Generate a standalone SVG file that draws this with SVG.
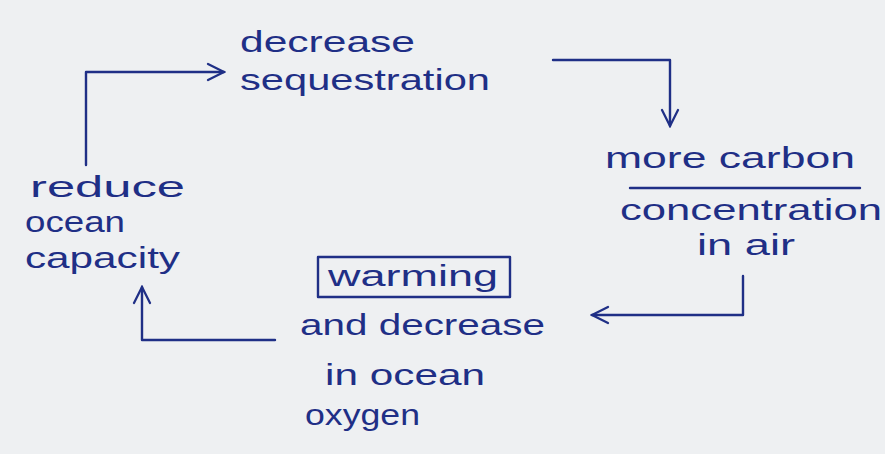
<svg xmlns="http://www.w3.org/2000/svg" width="885" height="454" viewBox="0 0 885 454">
  <defs>
    <style>
      .ink { fill: #1f2f86; font-family: "Liberation Sans", "DejaVu Sans", sans-serif; font-size: 30px; }
      .line { fill: none; stroke: #1f2f86; stroke-width: 2.4; stroke-linecap: round; stroke-linejoin: round; }
    </style>
    <marker id="head" viewBox="0 0 12 12" refX="11" refY="6" markerWidth="8" markerHeight="8" markerUnits="strokeWidth" orient="auto">
      <path d="M1,1 L11,6 L1,11" fill="none" stroke="#1f2f86" stroke-width="1.4" stroke-linecap="round"/>
    </marker>
  </defs>

  <!-- paper -->
  <rect width="885" height="454" fill="#eef0f2"/>

  <g id="connectors">
    <path class="line" d="M86,165 L86,72 L224,72" marker-end="url(#head)"/>
    <path class="line" d="M553,60 L670,60 L670,126" marker-end="url(#head)"/>
    <path class="line" d="M743,276 L743,315 L592,315" marker-end="url(#head)"/>
    <path class="line" d="M275,340 L142,340 L142,287" marker-end="url(#head)"/>
  </g>

  <g id="node-sequestration">
    <text class="ink" x="240" y="52" textLength="175" lengthAdjust="spacingAndGlyphs">decrease</text>
    <text class="ink" x="240" y="90" textLength="250" lengthAdjust="spacingAndGlyphs">sequestration</text>
  </g>

  <g id="node-carbon">
    <text class="ink" x="605" y="168" textLength="250" lengthAdjust="spacingAndGlyphs">more carbon</text>
    <path class="line" d="M630,188 L860,188"/>
    <text class="ink" x="620" y="220" textLength="262" lengthAdjust="spacingAndGlyphs">concentration</text>
    <text class="ink" x="697" y="255" textLength="98" lengthAdjust="spacingAndGlyphs">in air</text>
  </g>

  <g id="node-warming">
    <rect class="line" x="318" y="257" width="192" height="40"/>
    <text class="ink" x="328" y="286" textLength="170" lengthAdjust="spacingAndGlyphs">warming</text>
    <text class="ink" x="300" y="335" textLength="245" lengthAdjust="spacingAndGlyphs">and decrease</text>
    <text class="ink" x="325" y="385" textLength="160" lengthAdjust="spacingAndGlyphs">in ocean</text>
    <text class="ink" x="305" y="425" textLength="115" lengthAdjust="spacingAndGlyphs">oxygen</text>
  </g>

  <g id="node-capacity">
    <text class="ink" x="30" y="197" textLength="155" lengthAdjust="spacingAndGlyphs">reduce</text>
    <text class="ink" x="25" y="232" textLength="100" lengthAdjust="spacingAndGlyphs">ocean</text>
    <text class="ink" x="25" y="268" textLength="155" lengthAdjust="spacingAndGlyphs">capacity</text>
  </g>
</svg>
